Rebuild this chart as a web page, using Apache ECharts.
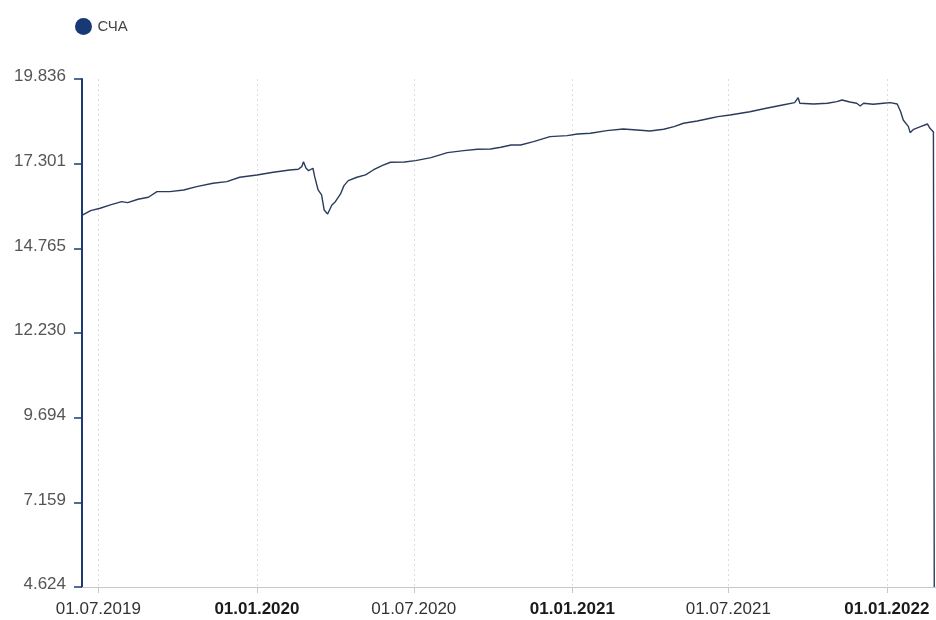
<!DOCTYPE html>
<html>
<head>
<meta charset="utf-8">
<script src="https://cdn.jsdelivr.net/npm/echarts@6/dist/echarts.min.js"></script>
<style>
html,body{margin:0;padding:0;background:#fff;}
#chart{width:936px;height:620px;}
</style>
</head>
<body>
<div id="chart"></div>
<script>
const seriesName = 'СЧА';
const dates = [
'2019-06-13','2019-06-22','2019-07-03','2019-07-15','2019-07-28','2019-08-04','2019-08-16','2019-08-28',
'2019-09-07','2019-09-22','2019-10-08','2019-10-23','2019-11-11','2019-11-27','2019-12-12','2020-01-01',
'2020-01-20','2020-02-08','2020-02-18','2020-02-22','2020-02-24','2020-02-27','2020-03-01','2020-03-06',
'2020-03-08','2020-03-12','2020-03-16','2020-03-19','2020-03-23','2020-03-25','2020-03-28','2020-04-01',
'2020-04-07','2020-04-11','2020-04-16','2020-04-26','2020-05-06','2020-05-15','2020-05-25','2020-06-04',
'2020-06-20','2020-07-03','2020-07-21','2020-08-09','2020-08-28','2020-09-13','2020-09-28','2020-10-10',
'2020-10-22','2020-11-02','2020-11-17','2020-12-06','2020-12-26','2021-01-07','2021-01-22','2021-02-10',
'2021-03-01','2021-03-17','2021-04-01','2021-04-17','2021-04-29','2021-05-10','2021-05-26','2021-06-10',
'2021-06-19','2021-07-03','2021-07-26','2021-08-14','2021-09-02','2021-09-16','2021-09-20','2021-09-22',
'2021-10-08','2021-10-24','2021-11-04','2021-11-10','2021-11-19','2021-11-27','2021-12-01','2021-12-05',
'2021-12-16','2021-12-28','2022-01-05','2022-01-13','2022-01-17','2022-01-20','2022-01-26','2022-01-28',
'2022-02-01','2022-02-09','2022-02-17','2022-02-20','2022-02-22','2022-02-24','2022-02-25'
];
const values = [
15.765,15.894,15.966,16.065,16.163,16.133,16.236,16.295,
16.463,16.463,16.513,16.612,16.714,16.762,16.894,16.963,
17.044,17.112,17.133,17.211,17.361,17.163,17.091,17.163,
16.912,16.513,16.364,15.915,15.795,15.816,16.065,16.163,
16.394,16.643,16.792,16.894,16.963,17.112,17.241,17.343,
17.351,17.391,17.481,17.630,17.690,17.732,17.741,17.791,
17.860,17.860,17.960,18.109,18.139,18.190,18.211,18.290,
18.340,18.310,18.280,18.330,18.410,18.510,18.579,18.660,
18.708,18.758,18.857,18.959,19.058,19.127,19.276,19.108,
19.088,19.108,19.157,19.207,19.147,19.108,19.028,19.108,
19.078,19.108,19.127,19.088,18.857,18.609,18.410,18.229,
18.330,18.410,18.489,18.360,18.310,18.250,4.624
];
const xTickDates = ['2019-07-01','2020-01-01','2020-07-01','2021-01-01','2021-07-01','2022-01-01'];
const xMin = '2019-06-12';
const xMax = '2022-02-27';
const yMin = 4.6236;
const yMax = 19.836;
const yInterval = 2.5354;

const font = "'Liberation Sans', Arial, Helvetica, sans-serif";
const ts = s => new Date(s + 'T00:00:00Z').getTime();
const data = dates.map((d, i) => [ts(d), values[i]]);
const xTicks = xTickDates.map(ts);

function pad(n){ return n < 10 ? '0' + n : '' + n; }
function fmtDate(v){
  const d = new Date(v);
  const s = pad(d.getUTCDate()) + '.' + pad(d.getUTCMonth() + 1) + '.' + d.getUTCFullYear();
  return d.getUTCMonth() === 0 ? '{b|' + s + '}' : '{n|' + s + '}';
}

const chart = echarts.init(document.getElementById('chart'), null, {renderer: 'canvas'});
chart.setOption({
  animation: false,
  legend: {
    left: 70, top: 13,
    icon: 'circle', itemWidth: 18, itemHeight: 17, itemGap: 4,
    textStyle: {color: '#444', fontSize: 15, fontFamily: font},
    data: [seriesName]
  },
  grid: {left: 82, right: 0, top: 79, bottom: 33, containLabel: false},
  xAxis: {
    type: 'value',
    min: ts(xMin), max: ts(xMax),
    axisLine: {show: true, lineStyle: {color: '#c8c8c8', width: 1}},
    axisTick: {show: true, customValues: xTicks, length: 6, lineStyle: {color: '#c8c8c8'}},
    axisLabel: {
      customValues: xTicks,
      formatter: fmtDate,
      margin: 14,
      rich: {
        b: {fontWeight: 'bold', fontSize: 17, color: '#1a1a1a', fontFamily: font},
        n: {fontSize: 17, color: '#333', fontFamily: font}
      }
    },
    splitLine: {show: true, lineStyle: {color: '#dcdcdc', type: [2, 3], width: 1}}
  },
  yAxis: {
    type: 'value',
    min: yMin, max: yMax, interval: yInterval,
    axisLine: {show: true, lineStyle: {color: '#1b3a73', width: 2}},
    axisTick: {show: true, length: 8, lineStyle: {color: '#1b3a73', width: 1.5}},
    axisLabel: {
      formatter: v => '{t|' + v.toFixed(3) + '}',
      margin: 16,
      rich: {
        t: {color: '#555', fontSize: 17, fontFamily: font, padding: [0, 0, 5, 0]}
      }
    },
    splitLine: {show: false}
  },
  series: [{
    name: seriesName,
    type: 'line',
    data: data,
    showSymbol: false,
    symbol: 'circle',
    color: '#173a75',
    lineStyle: {color: '#2a3b5c', width: 1.4}
  }]
});
</script>
</body>
</html>
